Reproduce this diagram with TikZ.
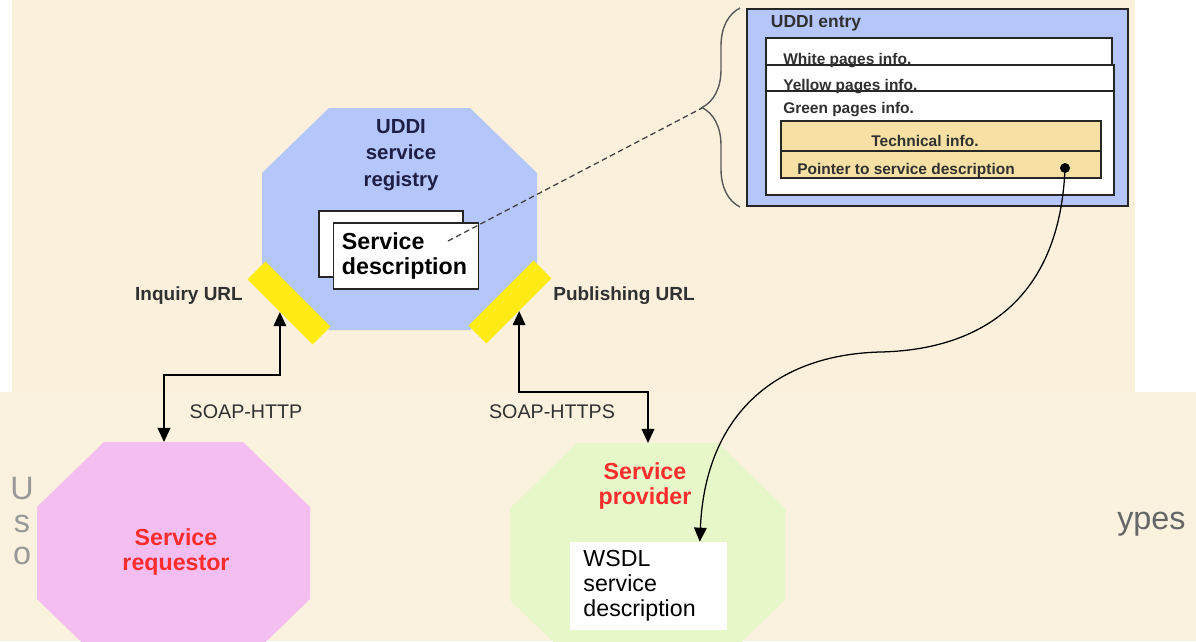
\documentclass[tikz,border=0pt]{standalone}
\usepackage{fontspec}
\setmainfont{Liberation Sans}
\usetikzlibrary{arrows.meta,decorations.pathreplacing}

\definecolor{creambg}{HTML}{FAF0DC}
\definecolor{creamlow}{HTML}{FAF1DE}
\definecolor{regblue}{HTML}{B4C6FA}
\definecolor{portyellow}{HTML}{FFEB14}
\definecolor{reqpink}{HTML}{F5BEF0}
\definecolor{provgreen}{HTML}{E8F7C9}
\definecolor{techtan}{HTML}{F6E0A4}
\definecolor{actorred}{HTML}{FF2D2D}
\definecolor{navytext}{HTML}{1E1E46}
\definecolor{labeltext}{HTML}{303030}

\tikzset{
  port/.style={rectangle, fill=portyellow, minimum width=2.3cm, minimum height=0.63cm, inner sep=0pt},
  docbox/.style={rectangle, draw=black!85, fill=white, line width=0.9pt, inner sep=0pt},
  sdbox/.style={docbox, text width=3.2cm, inner xsep=0.22cm, minimum height=1.65cm, align=left,
    font=\bfseries\fontsize{16.5}{18}\selectfont},
  wsdlbox/.style={rectangle, fill=white, text width=3.25cm, inner xsep=0.325cm, minimum height=2.2cm,
    align=left, font=\fontsize{16.5}{17.8}\selectfont},
  regtext/.style={align=center, text=navytext, font=\bfseries\fontsize{14.5}{18.8}\selectfont},
  actor/.style={align=center, text=actorred, font=\bfseries\fontsize{16.5}{17.8}\selectfont},
  urllbl/.style={text=labeltext, font=\bfseries\fontsize{13.5}{16}\selectfont},
  soaplbl/.style={text=labeltext, font=\fontsize{14}{16}\selectfont},
  entrytitle/.style={text=labeltext, font=\bfseries\fontsize{12.4}{14}\selectfont},
  entrytext/.style={text=labeltext, font=\bfseries\fontsize{11}{13}\selectfont, inner sep=0pt},
  entryline/.style={draw=black!85, line width=0.9pt},
  ptrdot/.style={circle, fill=black, minimum size=0.25cm, inner sep=0pt},
  duplex/.style={line width=1.1pt, {Triangle[width=9pt,length=10pt]}-{Triangle[width=9pt,length=10pt]}},
  curvelink/.style={line width=0.9pt, -{Triangle[width=9pt,length=10pt]}},
  dashlink/.style={line width=0.9pt, dash pattern=on 4pt off 2.5pt, black!75},
  bracestyle/.style={decorate, decoration={brace, amplitude=0.95cm, aspect=0.5}, line width=1pt, black!65},
  ghost/.style={text=black!40, font=\fontsize{23}{26}\selectfont, inner sep=0pt}
}

\begin{document}
\begin{tikzpicture}[x=0.025cm, y=-0.025cm]
  \useasboundingbox (0,0) rectangle (1196,641);

  % background of the slide
  \fill[white] (0,0) rectangle (1196,641);
  \fill[creambg] (12,0) rectangle (1135,641);
  \fill[creamlow] (0,392) rectangle (1196,641);
  \node[ghost] (gu) at (22,489) {U};
  \node[ghost] (gs) at (22,524) {s};
  \node[ghost] (go) at (22,556) {o};
  \node[ghost, anchor=west, text=black!60] (gtypes) at (1117,524) {ypes};

  % UDDI service registry
  \fill[regblue] (262,173) -- ++(67,-65) -- ++(141,0) -- ++(67,65) -- ++(0,92)
    -- ++(-67,65) -- ++(-141,0) -- ++(-67,-65) -- cycle;
  \node[regtext] (reg) at (401,155) {UDDI\\service\\registry};
  \node[docbox, minimum width=3.6cm, minimum height=1.65cm] (sdback) at (391,244) {};
  \node[sdbox] (sdesc) at (406,256) {Service\\description};
  \coordinate (sdlink) at (448,241);

  \node[port, rotate=-45] (inq) at (289,303) {};
  \node[port, rotate=45] (pub) at (510,302) {};
  \node[urllbl] (inqlbl) at (189,296) {Inquiry URL};
  \node[urllbl] (publbl) at (624,296) {Publishing URL};

  % service requestor
  \fill[reqpink] (37,507) -- ++(67,-65) -- ++(139,0) -- ++(67,65) -- ++(0,92)
    -- ++(-67,65) -- ++(-139,0) -- ++(-67,-65) -- cycle;
  \node[actor] (req) at (176,552) {Service\\requestor};

  % service provider
  \fill[provgreen] (510,508) -- ++(67,-65) -- ++(141,0) -- ++(67,65) -- ++(0,92)
    -- ++(-67,65) -- ++(-141,0) -- ++(-67,-65) -- cycle;
  \node[actor] (prov) at (645,486) {Service\\provider};
  \node[wsdlbox] (wsdl) at (648.5,586) {WSDL\\service\\description};

  % SOAP links
  \coordinate (reqtop) at (164,442);
  \coordinate (reqbend) at (164,375);
  \coordinate (provtop) at (648,443);
  \coordinate (provbend) at (648,392);
  \draw[duplex] (reqtop) -- (reqbend) -| (inq.south);
  \draw[duplex] (pub.south) |- (provbend) -- (provtop);
  \node[soaplbl] (httplbl) at (246,412) {SOAP-HTTP};
  \node[soaplbl] (httpslbl) at (552,412) {SOAP-HTTPS};

  % UDDI entry
  \draw[entryline, fill=regblue] (747,9) rectangle (1128,206);
  \node[entrytitle, anchor=west] (entrytitle) at (766,23) {UDDI entry};
  \draw[entryline, fill=white] (766,38) rectangle (1112,65);
  \draw[entryline, fill=white] (766,65) rectangle (1114,195);
  \draw[entryline] (766,91) -- (1114,91);
  \node[entrytext, anchor=base west] (white) at (783,64) {White pages info.};
  \node[entrytext, anchor=base west] (yellow) at (783,90) {Yellow pages info.};
  \node[entrytext, anchor=base west] (green) at (783,113) {Green pages info.};
  \draw[entryline, fill=techtan] (781,121) rectangle (1101,178);
  \draw[entryline] (781,151) -- (1101,151);
  \node[entrytext] (tech) at (925,141) {Technical info.};
  \node[entrytext, anchor=base west] (ptrtext) at (797,174) {Pointer to service description};
  \node[ptrdot] (ptr) at (1065,168) {};

  \draw[bracestyle] (740,207) -- (740,8);
  \coordinate (bracetip) at (702,108);
  \draw[dashlink] (sdlink) -- (bracetip);

  \draw[curvelink] (ptr.center) .. controls (1060,300) and (980,350) .. (880,352)
    .. controls (770,355) and (705,420) .. ([xshift=-0.675cm]wsdl.north east);
\end{tikzpicture}
\end{document}
